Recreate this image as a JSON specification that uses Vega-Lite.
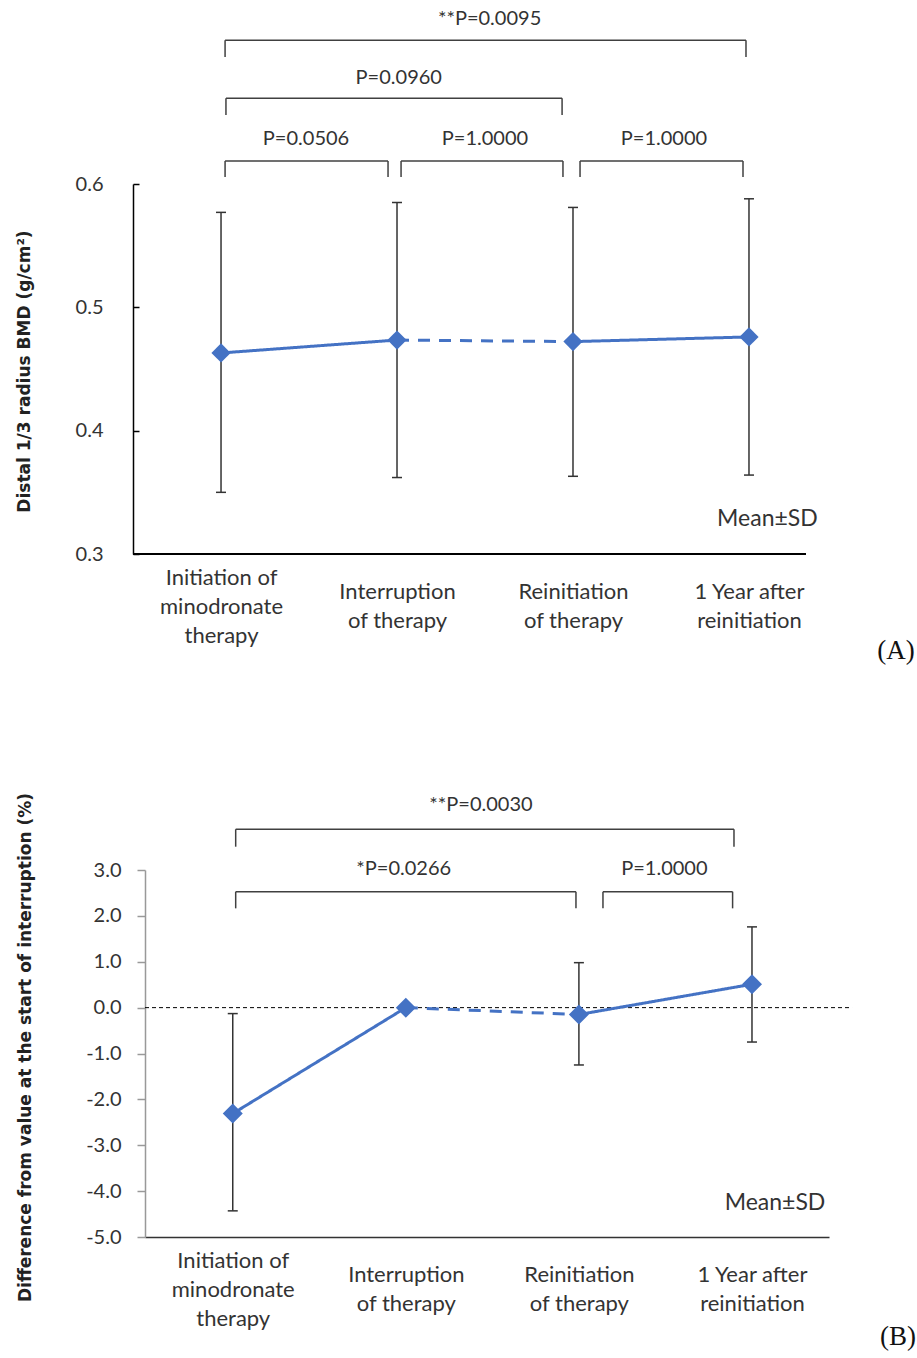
{
  "$schema": "https://vega.github.io/schema/vega-lite/v6.json",
  "padding": {"left": 14, "top": 8, "right": 0, "bottom": 0},
  "background": "white",
  "spacing": 127,
  "config": {"font": "Lato", "view": {"stroke": null}, "axis": {"grid": false}},
  "datasets": {
    "statsA": [
      {"t": 1, "mean": 0.463, "lo": 0.350, "hi": 0.577},
      {"t": 2, "mean": 0.4735, "lo": 0.362, "hi": 0.585},
      {"t": 3, "mean": 0.4722, "lo": 0.363, "hi": 0.581},
      {"t": 4, "mean": 0.476, "lo": 0.364, "hi": 0.588}
    ],
    "lineA": [
      {"seg": "a", "style": "solid", "t": 1, "v": 0.463},
      {"seg": "a", "style": "solid", "t": 2, "v": 0.4735},
      {"seg": "b", "style": "dashed", "t": 2, "v": 0.4735},
      {"seg": "b", "style": "dashed", "t": 3, "v": 0.4722},
      {"seg": "c", "style": "solid", "t": 3, "v": 0.4722},
      {"seg": "c", "style": "solid", "t": 4, "v": 0.476}
    ],
    "bracketsA": [
      {"x1": 1.023, "x2": 3.983, "top": 0.7165, "bot": 0.703, "label": "**P=0.0095", "lx": 2.526, "ly": 0.7338},
      {"x1": 1.028, "x2": 2.938, "top": 0.6695, "bot": 0.656, "label": "P=0.0960", "lx": 2.010, "ly": 0.686},
      {"x1": 1.023, "x2": 1.949, "top": 0.6186, "bot": 0.6057, "label": "P=0.0506", "lx": 1.483, "ly": 0.6365},
      {"x1": 2.023, "x2": 2.943, "top": 0.6186, "bot": 0.6057, "label": "P=1.0000", "lx": 2.5, "ly": 0.6365},
      {"x1": 3.040, "x2": 3.966, "top": 0.6186, "bot": 0.6057, "label": "P=1.0000", "lx": 3.517, "ly": 0.6365}
    ],
    "statsB": [
      {"t": 1, "mean": -2.31, "lo": -4.43, "hi": -0.13},
      {"t": 2, "mean": 0.0, "lo": 0.0, "hi": 0.0},
      {"t": 3, "mean": -0.15, "lo": -1.25, "hi": 0.98},
      {"t": 4, "mean": 0.51, "lo": -0.75, "hi": 1.76}
    ],
    "lineB": [
      {"seg": "a", "style": "solid", "t": 1, "v": -2.31},
      {"seg": "a", "style": "solid", "t": 2, "v": 0.0},
      {"seg": "b", "style": "dashed", "t": 2, "v": 0.0},
      {"seg": "b", "style": "dashed", "t": 3, "v": -0.15},
      {"seg": "c", "style": "solid", "t": 3, "v": -0.15},
      {"seg": "c", "style": "solid", "t": 4, "v": 0.51}
    ],
    "bracketsB": [
      {"x1": 1.017, "x2": 3.896, "top": 3.888, "bot": 3.508, "label": "**P=0.0030", "lx": 2.434, "ly": 4.418},
      {"x1": 1.017, "x2": 2.983, "top": 2.527, "bot": 2.164, "label": "*P=0.0266", "lx": 1.988, "ly": 3.022},
      {"x1": 3.139, "x2": 3.888, "top": 2.527, "bot": 2.164, "label": "P=1.0000", "lx": 3.494, "ly": 3.022}
    ]
  },
  "vconcat": [
    {
      "width": 661,
      "height": 370,
      "layer": [
        {
          "data": {"name": "bracketsA"},
          "mark": {"type": "rule", "color": "#404040", "strokeWidth": 1.5},
          "encoding": {
            "x": {"field": "x1", "type": "quantitative",
              "scale": {"domain": [0.568, 4.324], "nice": false, "zero": false},
              "axis": {"title": null, "values": [1, 2, 3, 4], "ticks": false, "tickSize": 0,
                "domain": false,
                "labelExpr": "datum.value == 1 ? ['Initiation of','minodronate','therapy'] : datum.value == 2 ? ['Interruption','of therapy'] : datum.value == 3 ? ['Reinitiation','of therapy'] : ['1 Year after','reinitiation']",
                "labelFontSize": 22, "labelLineHeight": 29, "labelBaseline": "middle",
                "labelPadding": {"condition": {"test": "datum.value == 1", "value": 23}, "value": 37},
                "labelColor": "#333", "labelFlush": false, "labelOverlap": false, "labelAlign": "center"}},
            "x2": {"field": "x2"},
            "y": {"field": "top", "type": "quantitative",
              "scale": {"domain": [0.3, 0.6], "nice": false, "zero": false},
              "axis": {"title": "Distal 1/3 radius BMD (g/cm²)", "values": [0.3, 0.4, 0.5, 0.6], "format": ".1f",
                "offset": 12,
                "domainColor": "#000", "domainWidth": 1.5, "tickColor": "#000", "tickWidth": 1.5,
                "tickSize": -6, "labelPadding": 36, "labelFontSize": 20, "labelColor": "#333",
                "titleFont": "DejaVu Sans", "titleFontWeight": "bold", "titleFontSize": 17, "titleColor": "#222",
                "titleX": -109, "titleY": 187, "titleAngle": -90, "titleAlign": "center", "titleBaseline": "middle"}}
          }
        },
        {
          "data": {"name": "bracketsA"},
          "mark": {"type": "rule", "color": "#404040", "strokeWidth": 1.5},
          "encoding": {
            "x": {"field": "x1", "type": "quantitative"},
            "y": {"field": "top", "type": "quantitative"},
            "y2": {"field": "bot"}
          }
        },
        {
          "data": {"name": "bracketsA"},
          "mark": {"type": "rule", "color": "#404040", "strokeWidth": 1.5},
          "encoding": {
            "x": {"field": "x2", "type": "quantitative"},
            "y": {"field": "top", "type": "quantitative"},
            "y2": {"field": "bot"}
          }
        },
        {
          "data": {"name": "bracketsA"},
          "mark": {"type": "text", "fontSize": 20, "color": "#333", "baseline": "middle", "align": "center"},
          "encoding": {
            "x": {"field": "lx", "type": "quantitative"},
            "y": {"field": "ly", "type": "quantitative"},
            "text": {"field": "label"}
          }
        },
        {
          "data": {"values": [{}]},
          "mark": {"type": "rule", "color": "#000", "strokeWidth": 2},
          "encoding": {
            "x": {"datum": 0.5, "type": "quantitative"},
            "x2": {"datum": 4.324},
            "y": {"datum": 0.3, "type": "quantitative"}
          }
        },
        {
          "data": {"name": "statsA"},
          "mark": {"type": "rule", "color": "#333", "strokeWidth": 1.5},
          "encoding": {
            "x": {"field": "t", "type": "quantitative"},
            "y": {"field": "lo", "type": "quantitative"},
            "y2": {"field": "hi"}
          }
        },
        {
          "data": {"name": "statsA"},
          "mark": {"type": "tick", "orient": "horizontal", "size": 10, "thickness": 1.5, "color": "#333", "opacity": 1},
          "encoding": {
            "x": {"field": "t", "type": "quantitative"},
            "y": {"field": "lo", "type": "quantitative"}
          }
        },
        {
          "data": {"name": "statsA"},
          "mark": {"type": "tick", "orient": "horizontal", "size": 10, "thickness": 1.5, "color": "#333", "opacity": 1},
          "encoding": {
            "x": {"field": "t", "type": "quantitative"},
            "y": {"field": "hi", "type": "quantitative"}
          }
        },
        {
          "data": {"name": "lineA"},
          "mark": {"type": "line", "color": "#4472C4", "strokeWidth": 3},
          "encoding": {
            "x": {"field": "t", "type": "quantitative"},
            "y": {"field": "v", "type": "quantitative"},
            "detail": {"field": "seg"},
            "strokeDash": {"field": "style", "type": "nominal",
              "scale": {"domain": ["solid", "dashed"], "range": [[1, 0], [12, 9]]}, "legend": null}
          }
        },
        {
          "data": {"name": "statsA"},
          "mark": {"type": "point", "shape": "diamond", "filled": true, "size": 370, "color": "#4472C4", "opacity": 1},
          "encoding": {
            "x": {"field": "t", "type": "quantitative"},
            "y": {"field": "mean", "type": "quantitative"}
          }
        },
        {
          "data": {"values": [{}]},
          "mark": {"type": "text", "text": "Mean±SD", "fontSize": 23, "color": "#333", "baseline": "middle", "align": "center"},
          "encoding": {
            "x": {"datum": 4.105, "type": "quantitative"},
            "y": {"datum": 0.3284, "type": "quantitative"}
          }
        },
        {
          "data": {"values": [{}]},
          "mark": {"type": "text", "text": "(A)", "font": "Liberation Serif", "fontSize": 27, "color": "#111", "baseline": "middle", "align": "center"},
          "encoding": {
            "x": {"datum": 4.835, "type": "quantitative"},
            "y": {"datum": 0.2213, "type": "quantitative"}
          }
        }
      ]
    },
    {
      "width": 684,
      "height": 367,
      "layer": [
        {
          "data": {"name": "bracketsB"},
          "mark": {"type": "rule", "color": "#404040", "strokeWidth": 1.5},
          "encoding": {
            "x": {"field": "x1", "type": "quantitative",
              "scale": {"domain": [0.493, 4.445], "nice": false, "zero": false},
              "axis": {"title": null, "values": [1, 2, 3, 4], "ticks": false, "tickSize": 0,
                "domainColor": "#333", "domainWidth": 1.5,
                "labelExpr": "datum.value == 1 ? ['Initiation of','minodronate','therapy'] : datum.value == 2 ? ['Interruption','of therapy'] : datum.value == 3 ? ['Reinitiation','of therapy'] : ['1 Year after','reinitiation']",
                "labelFontSize": 22, "labelLineHeight": 29, "labelBaseline": "middle",
                "labelPadding": {"condition": {"test": "datum.value == 1", "value": 23}, "value": 37},
                "labelColor": "#333", "labelFlush": false, "labelOverlap": false, "labelAlign": "center"}},
            "x2": {"field": "x2"},
            "y": {"field": "top", "type": "quantitative",
              "scale": {"domain": [-5, 3], "nice": false, "zero": false},
              "axis": {"title": "Difference from value at the start of interruption (%)",
                "values": [-5, -4, -3, -2, -1, 0, 1, 2, 3],
                "labelExpr": "replace(format(datum.value, '.1f'), '−', '-')",
                "domainColor": "#999", "domainWidth": 1.5, "tickColor": "#999", "tickWidth": 1.5,
                "tickSize": 8, "labelPadding": 16, "labelFontSize": 20, "labelColor": "#333",
                "titleFont": "DejaVu Sans", "titleFontWeight": "bold", "titleFontSize": 17, "titleColor": "#222",
                "titleX": -120, "titleY": 177, "titleAngle": -90, "titleAlign": "center", "titleBaseline": "middle"}}
          }
        },
        {
          "data": {"name": "bracketsB"},
          "mark": {"type": "rule", "color": "#404040", "strokeWidth": 1.5},
          "encoding": {
            "x": {"field": "x1", "type": "quantitative"},
            "y": {"field": "top", "type": "quantitative"},
            "y2": {"field": "bot"}
          }
        },
        {
          "data": {"name": "bracketsB"},
          "mark": {"type": "rule", "color": "#404040", "strokeWidth": 1.5},
          "encoding": {
            "x": {"field": "x2", "type": "quantitative"},
            "y": {"field": "top", "type": "quantitative"},
            "y2": {"field": "bot"}
          }
        },
        {
          "data": {"name": "bracketsB"},
          "mark": {"type": "text", "fontSize": 20, "color": "#333", "baseline": "middle", "align": "center"},
          "encoding": {
            "x": {"field": "lx", "type": "quantitative"},
            "y": {"field": "ly", "type": "quantitative"},
            "text": {"field": "label"}
          }
        },
        {
          "data": {"values": [{}]},
          "mark": {"type": "rule", "color": "#000", "strokeWidth": 1, "strokeDash": [4, 3]},
          "encoding": {
            "x": {"datum": 0.493, "type": "quantitative"},
            "x2": {"datum": 4.578},
            "y": {"datum": 0, "type": "quantitative"}
          }
        },
        {
          "data": {"name": "statsB"},
          "transform": [{"filter": "datum.hi > datum.lo"}],
          "mark": {"type": "rule", "color": "#333", "strokeWidth": 1.5},
          "encoding": {
            "x": {"field": "t", "type": "quantitative"},
            "y": {"field": "lo", "type": "quantitative"},
            "y2": {"field": "hi"}
          }
        },
        {
          "data": {"name": "statsB"},
          "transform": [{"filter": "datum.hi > datum.lo"}],
          "mark": {"type": "tick", "orient": "horizontal", "size": 10, "thickness": 1.5, "color": "#333", "opacity": 1},
          "encoding": {
            "x": {"field": "t", "type": "quantitative"},
            "y": {"field": "lo", "type": "quantitative"}
          }
        },
        {
          "data": {"name": "statsB"},
          "transform": [{"filter": "datum.hi > datum.lo"}],
          "mark": {"type": "tick", "orient": "horizontal", "size": 10, "thickness": 1.5, "color": "#333", "opacity": 1},
          "encoding": {
            "x": {"field": "t", "type": "quantitative"},
            "y": {"field": "hi", "type": "quantitative"}
          }
        },
        {
          "data": {"name": "lineB"},
          "mark": {"type": "line", "color": "#4472C4", "strokeWidth": 3},
          "encoding": {
            "x": {"field": "t", "type": "quantitative"},
            "y": {"field": "v", "type": "quantitative"},
            "detail": {"field": "seg"},
            "strokeDash": {"field": "style", "type": "nominal",
              "scale": {"domain": ["solid", "dashed"], "range": [[1, 0], [12, 9]]}, "legend": null}
          }
        },
        {
          "data": {"name": "statsB"},
          "mark": {"type": "point", "shape": "diamond", "filled": true, "size": 400, "color": "#4472C4", "opacity": 1},
          "encoding": {
            "x": {"field": "t", "type": "quantitative"},
            "y": {"field": "mean", "type": "quantitative"}
          }
        },
        {
          "data": {"values": [{}]},
          "mark": {"type": "text", "text": "Mean±SD", "fontSize": 23, "color": "#333", "baseline": "middle", "align": "center"},
          "encoding": {
            "x": {"datum": 4.133, "type": "quantitative"},
            "y": {"datum": -4.266, "type": "quantitative"}
          }
        },
        {
          "data": {"values": [{}]},
          "mark": {"type": "text", "text": "(B)", "font": "Liberation Serif", "fontSize": 27, "color": "#111", "baseline": "middle", "align": "center"},
          "encoding": {
            "x": {"datum": 4.844, "type": "quantitative"},
            "y": {"datum": -7.19, "type": "quantitative"}
          }
        }
      ]
    }
  ]
}
